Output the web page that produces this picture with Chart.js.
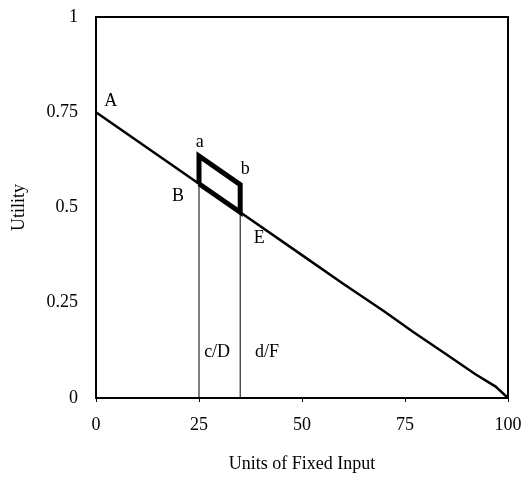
<!DOCTYPE html>
<html>
<head>
<meta charset="utf-8">
<script src="https://cdn.jsdelivr.net/npm/chart.js@4"></script>
<style>
  html, body { margin: 0; padding: 0; background: #fff; }
  #wrap { width: 525px; height: 479px; }
</style>
</head>
<body>
<div id="wrap"><canvas id="chart" width="525" height="479"></canvas></div>
<script>
// Utility line
const lineX = [0, 25, 35, 50, 60, 70, 77, 85, 92, 97, 100];
const lineY = [0.75, 0.5625, 0.4875, 0.375, 0.3, 0.227, 0.173, 0.115, 0.063, 0.03, 0];

// Thick parallelogram a-b
const boxX = [25, 25, 35, 35, 25];
const boxY = [0.5625, 0.635, 0.56, 0.4875, 0.5625];

// Thin drop lines at c/D and d/F
const dropCX = [25, 25];
const dropCY = [0, 0.5625];
const dropDX = [35, 35];
const dropDY = [0, 0.4875];

// Point labels
const labelText = ["A", "a", "b", "B", "E", "c/D", "d/F"];
const labelX = [3.6, 25.2, 36.2, 19.9, 39.6, 29.4, 41.5];
const labelY = [0.78, 0.67, 0.60, 0.53, 0.42, 0.12, 0.12];

const xTicks = [0, 25, 50, 75, 100];
const yTicks = [0, 0.25, 0.5, 0.75, 1];
const yTickLabels = ["0", "0.25", "0.5", "0.75", "1"];

const FONT = "'Liberation Serif', 'Times New Roman', serif";

function pts(xs, ys) {
    return xs.map((x, i) => ({ x: x, y: ys[i] }));
}

// Frame round the plot area and the letter labels
const framePlugin = {
    id: 'frame',
    afterDatasetsDraw(chart) {
        const { ctx, chartArea: a, scales } = chart;
        ctx.save();
        ctx.strokeStyle = '#000';
        ctx.lineWidth = 2;
        ctx.strokeRect(a.left, a.top, a.right - a.left, a.bottom - a.top);
        ctx.fillStyle = '#000';
        ctx.font = "18px " + FONT;
        ctx.textAlign = 'center';
        ctx.textBaseline = 'middle';
        labelText.forEach((t, i) => {
            ctx.fillText(t, scales.x.getPixelForValue(labelX[i]), scales.y.getPixelForValue(labelY[i]));
        });
        ctx.restore();
    }
};

new Chart(document.getElementById('chart'), {
    type: 'scatter',
    data: {
        datasets: [
            { data: pts(lineX, lineY), borderColor: '#000', borderWidth: 2.5, showLine: true, pointRadius: 0 },
            { data: pts(boxX, boxY), borderColor: '#000', borderWidth: 5, showLine: true, pointRadius: 0, borderJoinStyle: 'miter' },
            { data: pts(dropCX, dropCY), borderColor: '#000', borderWidth: 1, showLine: true, pointRadius: 0 },
            { data: pts(dropDX, dropDY), borderColor: '#000', borderWidth: 1, showLine: true, pointRadius: 0 }
        ]
    },
    options: {
        responsive: false,
        animation: false,
        layout: { padding: { top: 17, right: 17, left: 4, bottom: 0 } },
        plugins: { legend: { display: false }, tooltip: { enabled: false } },
        scales: {
            x: {
                min: 0, max: 100,
                afterBuildTicks: s => { s.ticks = xTicks.map(v => ({ value: v })); },
                afterFit: s => { s.height = 81; s.paddingLeft = 0; s.paddingRight = 0; },
                grid: { drawOnChartArea: false, drawTicks: true, tickLength: 4, color: '#000' },
                border: { color: '#000', width: 2 },
                ticks: { color: '#000', font: { family: FONT, size: 18 }, padding: 12, maxRotation: 0 },
                title: { display: true, text: 'Units of Fixed Input', color: '#000', font: { family: FONT, size: 18 }, padding: { top: 10 } }
            },
            y: {
                min: 0, max: 1,
                afterBuildTicks: s => { s.ticks = yTicks.map(v => ({ value: v })); },
                afterFit: s => { s.width = 92; s.paddingTop = 0; s.paddingBottom = 0; },
                grid: { drawOnChartArea: false, drawTicks: false },
                border: { color: '#000', width: 2 },
                ticks: {
                    color: '#000', font: { family: FONT, size: 18 }, padding: 18,
                    callback: v => yTickLabels[yTicks.indexOf(v)]
                },
                title: { display: true, text: 'Utility', color: '#000', font: { family: FONT, size: 18 }, padding: { bottom: 0 } }
            }
        }
    },
    plugins: [framePlugin]
});
</script>
</body>
</html>
